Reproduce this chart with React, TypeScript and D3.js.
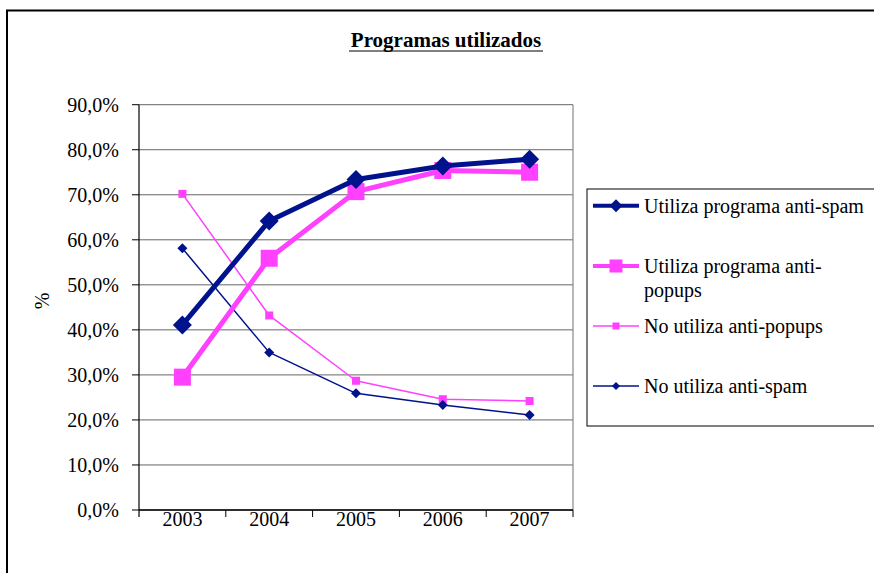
import React from "react";
import * as d3 from "d3";

const years = ["2003", "2004", "2005", "2006", "2007"];
const usaAntiSpam = [41.1, 64.2, 73.4, 76.4, 77.9];
const usaAntiPopups = [29.5, 55.9, 70.7, 75.4, 75.0];
const noUsaAntiPopups = [70.2, 43.2, 28.7, 24.6, 24.2];
const noUsaAntiSpam = [58.1, 35.0, 25.9, 23.3, 21.1];
const yTicks = [0, 10, 20, 30, 40, 50, 60, 70, 80, 90];

const NAVY = "#00128c";
const PINK = "#ff40ff";
const FONT = "Liberation Serif";

type Series = {
  name: string[];
  values: number[];
  color: string;
  width: number;
  marker: "diamond" | "square";
  size: number;
};

const series: Series[] = [
  { name: ["Utiliza programa anti-spam"], values: usaAntiSpam, color: NAVY, width: 5, marker: "diamond", size: 9.5 },
  { name: ["Utiliza programa anti-", "popups"], values: usaAntiPopups, color: PINK, width: 5, marker: "square", size: 8.5 },
  { name: ["No utiliza anti-popups"], values: noUsaAntiPopups, color: PINK, width: 1.5, marker: "square", size: 4 },
  { name: ["No utiliza anti-spam"], values: noUsaAntiSpam, color: NAVY, width: 1.5, marker: "diamond", size: 5 },
];

const plot = { left: 139, right: 573, top: 104.7, bottom: 510 };

function Marker({ kind, x, y, r, color }: { kind: string; x: number; y: number; r: number; color: string }) {
  if (kind === "square") {
    return <rect x={x - r} y={y - r} width={2 * r} height={2 * r} fill={color} />;
  }
  return <path d={`M${x},${y - r}L${x + r},${y}L${x},${y + r}L${x - r},${y}Z`} fill={color} />;
}

export default function App() {
  const x = d3.scaleBand<string>().domain(years).range([plot.left, plot.right]);
  const y = d3.scaleLinear().domain([0, 90]).range([plot.bottom, plot.top]);
  const cx = (i: number) => (x(years[i]) as number) + x.bandwidth() / 2;
  const line = d3
    .line<number>()
    .x((_, i) => cx(i))
    .y((d) => y(d));

  const legendRows = [205.7, 266, 326, 386];
  const txt = { fontFamily: FONT, fontSize: 20 };

  return (
    <svg width={874} height={573} style={{ position: "absolute", left: 0, top: 0 }}>
      <rect x={0} y={0} width={874} height={573} fill="#fff" />
      {/* outer frame */}
      <path d="M7,580V10.5H880" fill="none" stroke="#000" strokeWidth={2} />

      {/* title */}
      <text x={446} y={47} textAnchor="middle" style={{ fontFamily: FONT, fontSize: 21, fontWeight: "bold" }}>
        Programas utilizados
      </text>
      <line x1={349} x2={543} y1={51} y2={51} stroke="#000" strokeWidth={1.2} />

      {/* gridlines */}
      {yTicks.map((t) => (
        <line key={t} x1={plot.left} x2={plot.right} y1={y(t)} y2={y(t)} stroke="#666" strokeWidth={1} />
      ))}
      <line x1={plot.right} x2={plot.right} y1={plot.top} y2={plot.bottom} stroke="#888" strokeWidth={1.2} />

      {/* y axis */}
      <line x1={plot.left} x2={plot.left} y1={plot.top} y2={plot.bottom + 7} stroke="#000" strokeWidth={1.2} />
      {yTicks.map((t) => (
        <g key={t}>
          <line x1={plot.left - 7} x2={plot.left} y1={y(t)} y2={y(t)} stroke="#000" strokeWidth={1} />
          <text x={119} y={y(t) + 7} textAnchor="end" style={txt}>
            {t.toFixed(1).replace(".", ",") + "%"}
          </text>
        </g>
      ))}
      <text transform="translate(49,301) rotate(-90)" textAnchor="middle" style={txt}>
        %
      </text>

      {/* x axis */}
      <line x1={plot.left} x2={plot.right} y1={plot.bottom} y2={plot.bottom} stroke="#000" strokeWidth={1.5} />
      {years.map((yr) => (
        <line
          key={"t" + yr}
          x1={(x(yr) as number) + x.bandwidth()}
          x2={(x(yr) as number) + x.bandwidth()}
          y1={plot.bottom}
          y2={plot.bottom + 7}
          stroke="#000"
          strokeWidth={1}
        />
      ))}
      {years.map((yr, i) => (
        <text key={yr} x={cx(i)} y={526} textAnchor="middle" style={txt}>
          {yr}
        </text>
      ))}

      {/* series: thin ones below the thick ones */}
      {[2, 3, 1, 0].map((si) => {
        const s = series[si];
        return (
          <g key={si}>
            <path d={line(s.values) || ""} fill="none" stroke={s.color} strokeWidth={s.width} strokeLinejoin="round" />
            {s.values.map((v, i) => (
              <Marker key={i} kind={s.marker} x={cx(i)} y={y(v)} r={s.size} color={s.color} />
            ))}
          </g>
        );
      })}

      {/* legend */}
      <rect x={587} y={189} width={300} height={237} fill="#fff" stroke="#000" strokeWidth={1} />
      {series.map((s, i) => {
        const cy = legendRows[i];
        const lw = s.width > 2 ? 4 : 1.5;
        const mr = s.width > 2 ? 6.5 : s.marker === "square" ? 3.5 : 4;
        return (
          <g key={i}>
            <line x1={593} x2={639} y1={cy} y2={cy} stroke={s.color} strokeWidth={lw} />
            <Marker kind={s.marker} x={616} y={cy} r={mr} color={s.color} />
            {s.name.map((ln, k) => (
              <text key={k} x={644} y={cy + 7 + k * 24} style={txt}>
                {ln}
              </text>
            ))}
          </g>
        );
      })}
    </svg>
  );
}
